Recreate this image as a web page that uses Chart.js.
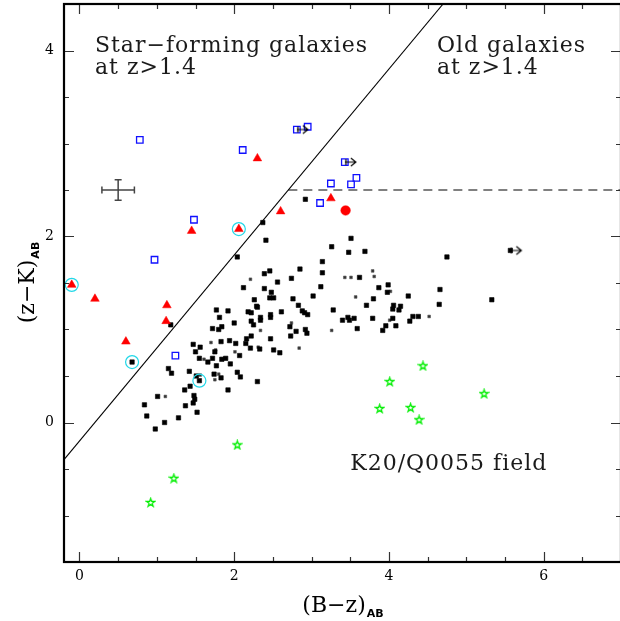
<!DOCTYPE html>
<html>
<head>
<meta charset="utf-8">
<script src="https://cdn.jsdelivr.net/npm/chart.js@4.4.1/dist/chart.umd.min.js"></script>
<style>
  html, body { margin: 0; padding: 0; background: #fff; overflow: hidden; }
  #wrap { width: 630px; height: 621px; }
</style>
</head>
<body>
<div id="wrap"><canvas id="cz" width="630" height="621"></canvas></div>
<script>
// colour-colour data, (B-z)_AB vs (z-K)_AB
const fieldGals = [
  [0.84,0.19],[0.87,0.07],[0.98,-0.07],[1.10,0.00],[1.28,0.05],[1.37,0.18],[1.47,0.21],[1.52,0.11],
  [1.49,0.25],[1.48,0.29],[1.01,0.28],[1.36,0.35],[1.43,0.39],[1.15,0.58],[1.19,0.53],[1.42,0.55],
  [1.51,0.50],[1.55,0.45],[0.68,0.65],[1.92,0.35],[2.30,0.44],[2.08,0.49],[2.04,0.54],[1.74,0.52],
  [1.83,0.48],[1.77,0.61],[1.95,0.63],[1.55,0.69],[1.66,0.65],[1.72,0.69],[1.84,0.68],[1.89,0.69],
  [2.07,0.72],[1.47,0.84],[1.56,0.81],[1.50,0.76],[1.75,0.76],[1.94,0.88],[2.02,0.85],[1.83,0.87],
  [1.77,1.21],[1.92,1.20],[1.81,1.13],[1.72,1.01],[1.80,1.00],[1.84,1.03],[2.00,1.07],[2.18,1.19],
  [2.22,1.18],[2.26,1.32],[2.29,1.25],[2.22,1.09],[2.25,1.05],[2.22,0.93],[2.16,0.90],[2.15,0.85],
  [2.21,0.80],[1.18,1.05],[2.37,2.15],[2.41,1.96],[2.04,1.78],[2.92,2.40],[3.26,1.89],[3.51,1.98],
  [3.48,1.83],[3.69,1.84],[3.14,1.73],[3.14,1.61],[2.85,1.65],[2.46,1.63],[2.39,1.60],[2.56,1.51],
  [2.74,1.55],[2.12,1.45],[2.39,1.44],[2.48,1.40],[2.46,1.34],[2.51,1.34],[2.76,1.33],[3.12,1.46],
  [3.62,1.56],[3.02,1.36],[2.30,1.24],[2.34,1.13],[2.47,1.16],[2.47,1.13],[2.61,1.19],[2.83,1.26],
  [2.88,1.20],[2.91,1.18],[2.95,1.16],[3.28,1.21],[3.71,1.26],[3.40,1.10],[3.47,1.13],[3.49,1.10],
  [3.55,1.12],[3.59,1.01],[2.34,1.10],[2.72,1.03],[2.92,1.00],[2.94,0.96],[2.80,0.98],[2.73,0.93],
  [2.47,0.90],[2.33,0.79],[2.51,0.78],[2.59,0.75],[3.79,1.12],[4.75,1.78],[3.99,1.48],[3.87,1.45],
  [3.98,1.40],[4.25,1.36],[4.66,1.43],[5.33,1.32],[3.80,1.33],[4.06,1.26],[4.05,1.22],[4.15,1.25],
  [4.13,1.21],[4.65,1.27],[4.05,1.12],[4.31,1.14],[4.38,1.14],[4.27,1.09],[3.96,1.04],[4.09,1.04],
  [3.92,0.99],[5.57,1.85]
];
const faintGals = [
  [1.70,0.86],[2.01,0.76],[1.61,0.68],[1.80,0.52],[1.75,0.46],[1.11,0.28],[2.21,1.54],[3.57,1.35],
  [2.74,1.07],[2.31,0.81],[2.34,0.99],[2.84,0.80],[3.26,0.99],[3.79,1.63],[3.81,1.57],[4.02,1.41],
  [4.52,1.14],[3.43,1.56],[3.51,1.56],[1.76,0.78],[4.01,1.10],[1.56,0.51]
];
const blueSq = [
  [0.78,3.04],[1.48,2.18],[0.97,1.75],[2.11,2.93],[2.81,3.15],[2.95,3.18],[3.43,2.80],[3.25,2.57],
  [3.58,2.63],[3.51,2.56],[3.11,2.36],[1.24,0.72]
];
const redTri = [
  [2.60,2.27],[1.45,2.06],[2.06,2.08],[-0.10,1.48],[0.20,1.33],[1.13,1.26],[1.12,1.09],[0.60,0.87],
  [2.30,2.84],[3.25,2.41]
];
const redDot = [[3.44,2.28]];
const stars = [
  [4.44,0.61],[4.01,0.44],[5.23,0.31],[3.88,0.15],[4.28,0.16],[4.39,0.03],[2.04,-0.24],[1.22,-0.60],
  [0.92,-0.86]
];
const ringed = [[2.06,2.08],[-0.10,1.48],[0.68,0.65],[1.55,0.45]];
const limits = [[2.81,3.15],[3.43,2.80],[5.57,1.85]];
const cutLine = [[-0.2,-0.4],[4.7,4.5]];
const oldCut = [[2.7,2.5],[7.0,2.5]];
const errCross = { x: 0.5, y: 2.5, dx: 0.21, dy: 0.11 };

const xRange = [-0.2, 7.0];
const yRange = [-1.5, 4.5];
const xTicks = [0, 0.5, 1, 1.5, 2, 2.5, 3, 3.5, 4, 4.5, 5, 5.5, 6, 6.5];
const yTicks = [-1, -0.5, 0, 0.5, 1, 1.5, 2, 2.5, 3, 3.5, 4];

const toXY = arr => arr.map(p => ({ x: p[0], y: p[1] }));
const isMajor = v => Math.abs(v - Math.round(v)) < 1e-6 && Math.round(v) % 2 === 0;
const SERIF = '"DejaVu Serif", serif';

// little sprites for the marker types Chart.js lacks
function starSprite() {
  const c = document.createElement('canvas');
  c.width = 11; c.height = 11;
  const g = c.getContext('2d');
  g.strokeStyle = '#00ee00';
  g.lineWidth = 1.3;
  g.beginPath();
  for (let i = 0; i < 10; i++) {
    const r = i % 2 ? 1.7 : 4.3;
    const a = -Math.PI / 2 + i * Math.PI / 5;
    const px = 5.5 + r * Math.cos(a), py = 5.8 + r * Math.sin(a);
    i ? g.lineTo(px, py) : g.moveTo(px, py);
  }
  g.closePath();
  g.stroke();
  return c;
}

function arrowSprite() {
  const c = document.createElement('canvas');
  c.width = 28; c.height = 12;
  const g = c.getContext('2d');
  g.strokeStyle = '#000';
  g.lineWidth = 1.2;
  g.beginPath();
  g.moveTo(15, 3); g.lineTo(15, 9);
  g.moveTo(14, 6); g.lineTo(25, 6);
  g.moveTo(20, 2); g.lineTo(25, 6); g.lineTo(20, 10);
  g.stroke();
  return c;
}

const notes = [
  { text: 'Star\u2212forming galaxies', x: 0.2, y: 3.98 },
  { text: 'at z>1.4', x: 0.2, y: 3.75 },
  { text: 'Old galaxies', x: 4.62, y: 3.98 },
  { text: 'at z>1.4', x: 4.62, y: 3.75 },
  { text: 'K20/Q0055 field', x: 3.50, y: -0.51 }
];

function drawSubLabel(ctx, main, sub, x, y, rot) {
  ctx.save();
  ctx.translate(x, y);
  ctx.rotate(rot);
  ctx.textAlign = 'left';
  ctx.textBaseline = 'alphabetic';
  ctx.font = '22px ' + SERIF;
  const w1 = ctx.measureText(main).width;
  ctx.font = 'bold 11px "DejaVu Sans"';
  const w2 = ctx.measureText(sub).width;
  const s = -(w1 + w2) / 2;
  ctx.fillStyle = '#000';
  ctx.font = '22px ' + SERIF;
  ctx.fillText(main, s, 0);
  ctx.font = 'bold 11px "DejaVu Sans"';
  ctx.fillText(sub, s + w1 + 1, 5);
  ctx.restore();
}

const decor = {
  id: 'decor',
  afterDraw(chart) {
    const { ctx, chartArea: a, scales: { x, y } } = chart;
    ctx.save();

    // error bar cross
    const cx = x.getPixelForValue(errCross.x), cy = y.getPixelForValue(errCross.y);
    const x0 = x.getPixelForValue(errCross.x - errCross.dx), x1 = x.getPixelForValue(errCross.x + errCross.dx);
    const y0 = y.getPixelForValue(errCross.y + errCross.dy), y1 = y.getPixelForValue(errCross.y - errCross.dy);
    ctx.strokeStyle = '#444';
    ctx.lineWidth = 1.5;
    ctx.beginPath();
    ctx.moveTo(x0, cy); ctx.lineTo(x1, cy);
    ctx.moveTo(cx, y0); ctx.lineTo(cx, y1);
    ctx.moveTo(x0, cy - 3.5); ctx.lineTo(x0, cy + 3.5);
    ctx.moveTo(x1, cy - 3.5); ctx.lineTo(x1, cy + 3.5);
    ctx.moveTo(cx - 3.5, y0); ctx.lineTo(cx + 3.5, y0);
    ctx.moveTo(cx - 3.5, y1); ctx.lineTo(cx + 3.5, y1);
    ctx.stroke();

    // inward ticks on all four sides
    ctx.strokeStyle = '#333';
    ctx.lineWidth = 1.2;
    ctx.beginPath();
    x.ticks.forEach(t => {
      const len = isMajor(t.value) ? 10 : 5;
      const p = Math.round(x.getPixelForValue(t.value)) + 0.5;
      ctx.moveTo(p, a.bottom); ctx.lineTo(p, a.bottom - len);
      ctx.moveTo(p, a.top); ctx.lineTo(p, a.top + len);
    });
    y.ticks.forEach(t => {
      const len = isMajor(t.value) ? 10 : 5;
      const p = Math.round(y.getPixelForValue(t.value)) + 0.5;
      ctx.moveTo(a.left, p); ctx.lineTo(a.left + len, p);
      ctx.moveTo(a.right, p); ctx.lineTo(a.right - len, p);
    });
    ctx.stroke();

    // frame
    ctx.strokeStyle = '#000';
    ctx.lineWidth = 2.2;
    ctx.strokeRect(a.left, a.top, a.right - a.left, a.bottom - a.top);

    // annotations
    ctx.fillStyle = '#1a1a1a';
    ctx.font = '22px ' + SERIF;
    ctx.letterSpacing = '1px';
    ctx.textAlign = 'left';
    ctx.textBaseline = 'alphabetic';
    notes.forEach(n => ctx.fillText(n.text, x.getPixelForValue(n.x), y.getPixelForValue(n.y)));
    ctx.letterSpacing = '0px';

    // axis titles with AB subscript
    drawSubLabel(ctx, '(B\u2212z)', 'AB', (a.left + a.right) / 2, 612, 0);
    drawSubLabel(ctx, '(z\u2212K)', 'AB', 34, (a.top + a.bottom) / 2, -Math.PI / 2);
    ctx.restore();
  }
};

const tickCb = v => (isMajor(v) ? String(Math.round(v)) : '');

new Chart(document.getElementById('cz').getContext('2d'), {
  type: 'scatter',
  data: {
    datasets: [
      { data: toXY(ringed), pointStyle: 'circle', pointRadius: 6.5, backgroundColor: 'transparent',
        borderColor: '#22d8e8', borderWidth: 1.2, order: 0 },
      { data: toXY(limits), pointStyle: arrowSprite(), pointRadius: 3, order: 1 },
      { data: toXY(blueSq), pointStyle: 'rect', pointRadius: 4.6, backgroundColor: 'rgba(0,0,0,0)',
        borderColor: '#1010ff', borderWidth: 1.3, order: 2 },
      { data: toXY(redTri), pointStyle: 'triangle', pointRadius: 5, backgroundColor: '#ff0000',
        borderColor: '#ff0000', borderWidth: 0.5, order: 3 },
      { data: toXY(redDot), pointStyle: 'circle', pointRadius: 4.8, backgroundColor: '#ff0000',
        borderColor: '#ff0000', borderWidth: 0.5, order: 4 },
      { data: toXY(stars), pointStyle: starSprite(), pointRadius: 3, order: 5 },
      { data: toXY(fieldGals), pointStyle: 'rect', pointRadius: 3.1, backgroundColor: '#000',
        borderColor: '#000', borderWidth: 0.6, order: 6 },
      { data: toXY(faintGals), pointStyle: 'rect', pointRadius: 1.9, backgroundColor: '#333',
        borderColor: '#555', borderWidth: 0.6, order: 7 },
      { data: toXY(cutLine), showLine: true, pointRadius: 0, borderColor: '#000', borderWidth: 1.1,
        order: 8 },
      { data: toXY(oldCut), showLine: true, pointRadius: 0, borderColor: '#808080', borderWidth: 2,
        borderDash: [9, 6], order: 9 }
    ]
  },
  options: {
    responsive: false,
    animation: false,
    events: [],
    layout: { autoPadding: false, padding: { top: 4, right: 9, left: 0, bottom: 0 } },
    plugins: { legend: { display: false }, tooltip: { enabled: false } },
    scales: {
      x: {
        type: 'linear', min: xRange[0], max: xRange[1],
        grid: { display: false, drawTicks: false }, border: { display: false },
        afterBuildTicks: s => { s.ticks = xTicks.map(v => ({ value: v })); },
        afterFit: s => { s.height = 59; s.paddingLeft = 0; s.paddingRight = 0; },
        ticks: { autoSkip: false, maxRotation: 0, padding: 6, callback: tickCb,
                 color: '#000', font: { family: SERIF, size: 14 } }
      },
      y: {
        type: 'linear', min: yRange[0], max: yRange[1],
        grid: { display: false, drawTicks: false }, border: { display: false },
        afterBuildTicks: s => { s.ticks = yTicks.map(v => ({ value: v })); },
        afterFit: s => { s.width = 64; s.paddingTop = 0; s.paddingBottom = 0; },
        ticks: { autoSkip: false, padding: 10, callback: tickCb,
                 color: '#000', font: { family: SERIF, size: 14 } }
      }
    }
  },
  plugins: [decor]
});
</script>
</body>
</html>
